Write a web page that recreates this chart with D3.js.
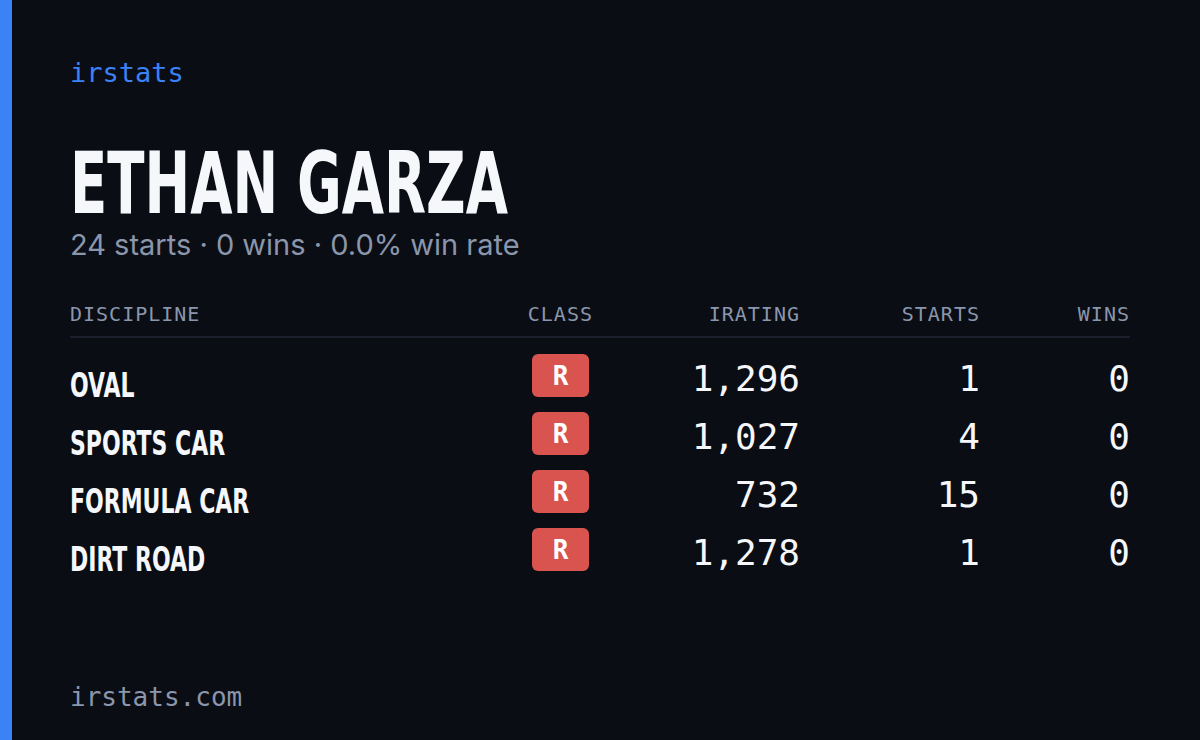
<!DOCTYPE html>
<html><head><meta charset="utf-8">
<script src="https://cdn.jsdelivr.net/npm/d3@7"></script>
<style>body{margin:0;background:#0a0d14}</style>
</head><body><div id="card"></div>
<script>
const disciplines = ["OVAL", "SPORTS CAR", "FORMULA CAR", "DIRT ROAD"];
const classes = ["R", "R", "R", "R"];
const iratings = [1296, 1027, 732, 1278];
const starts = [1, 4, 15, 1];
const wins = [0, 0, 0, 0];
const totalStarts = 24, totalWins = 0;
const columns = ["DISCIPLINE", "CLASS", "IRATING", "STARTS", "WINS"];

const W = 1200, H = 740;
const mono = "'DejaVu Sans Mono', monospace";
const cond = "'DejaVu Sans Condensed', 'DejaVu Sans', sans-serif";
const svg = d3.select("#card").append("svg").attr("width", W).attr("height", H);
svg.append("rect").attr("width", W).attr("height", H).attr("fill", "#0a0d14");
svg.append("rect").attr("width", 12).attr("height", H).attr("fill", "#3b82f6");

svg.append("text").attr("x", 70).attr("y", 82).attr("font-family", mono)
  .attr("font-size", 27).attr("font-weight", "500").attr("fill", "#3b82f6").text("irstats");

const title = svg.append("text").attr("font-family", cond).attr("font-weight", "bold")
  .attr("font-size", 86).attr("fill", "#f5f7fa").text("ETHAN GARZA");
const squeeze = 438 / title.node().getComputedTextLength();
title.attr("transform", `translate(70,213) scale(${squeeze},1)`);

svg.append("text").attr("x", 70).attr("y", 255).attr("font-family", "Inter, sans-serif")
  .attr("font-size", 29).attr("fill", "#8a96ab")
  .text(`${totalStarts} starts · ${totalWins} wins · ${(100 * totalWins / totalStarts).toFixed(1)}% win rate`);

// column positions
const colX = [70, 593, 800, 980, 1130];
const anchor = ["start", "end", "end", "end", "end"];
svg.selectAll(".hdr").data(columns).enter().append("text")
  .attr("x", (d, i) => colX[i]).attr("y", 321).attr("text-anchor", (d, i) => anchor[i])
  .attr("font-family", mono).attr("font-size", 20).attr("letter-spacing", 1)
  .attr("fill", "#8a96ab").text(d => d);
svg.append("line").attr("x1", 70).attr("x2", 1130).attr("y1", 337).attr("y2", 337)
  .attr("stroke", "#1a1f2b").attr("stroke-width", 2);

const y = d3.scaleBand().domain(d3.range(disciplines.length)).range([346, 578]);
const fmt = d3.format(",");
const rows = svg.selectAll(".row").data(disciplines).enter().append("g")
  .attr("transform", (d, i) => `translate(0,${y(i)})`);

rows.append("text").attr("font-family", cond).attr("font-weight", "bold")
  .attr("font-size", 34).attr("fill", "#f5f7fa")
  .attr("transform", `translate(70,51) scale(${squeeze * 1.02},1)`).text(d => d);

rows.append("rect").attr("x", 532).attr("y", 8).attr("width", 57).attr("height", 43)
  .attr("rx", 6).attr("fill", "#d9534f");
rows.append("text").attr("x", 560.5).attr("y", 39).attr("text-anchor", "middle")
  .attr("font-family", mono).attr("font-weight", "bold").attr("font-size", 26)
  .attr("fill", "#fff").text((d, i) => classes[i]);

const vals = [iratings.map(fmt), starts, wins];
vals.forEach((arr, c) => {
  rows.append("text").attr("x", colX[c + 2]).attr("y", 45).attr("text-anchor", "end")
    .attr("font-family", mono).attr("font-size", 36).attr("font-weight", "500").attr("fill", "#f5f7fa")
    .text((d, i) => arr[i]);
});

svg.append("text").attr("x", 70).attr("y", 706).attr("font-family", mono)
  .attr("font-size", 26).attr("fill", "#8a96ab").text("irstats.com");
</script></body></html>
